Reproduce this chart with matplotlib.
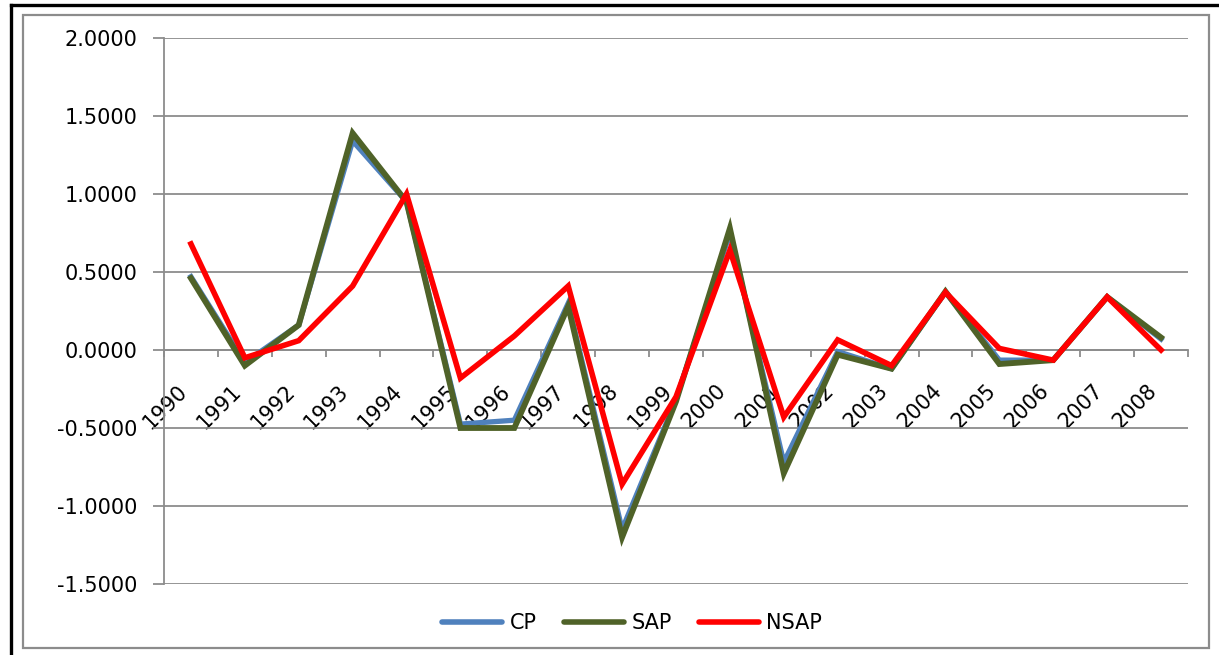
import matplotlib.pyplot as plt
import matplotlib.patches as patches
import matplotlib.lines as mlines
import numpy as np

years = [str(y) for y in range(1990, 2009)]
cp = [0.47, -0.08, 0.16, 1.34, 0.95, -0.475, -0.45, 0.30, -1.15, -0.32, 0.75,
      -0.72, -0.01, -0.12, 0.37, -0.065, -0.065, 0.34, 0.07]
sap = [0.46, -0.10, 0.16, 1.39, 0.95, -0.50, -0.50, 0.28, -1.20, -0.33, 0.78,
       -0.79, -0.03, -0.12, 0.375, -0.09, -0.065, 0.34, 0.08]
nsap = [0.68, -0.05, 0.06, 0.41, 1.00, -0.18, 0.09, 0.41, -0.86, -0.30, 0.64,
        -0.43, 0.065, -0.10, 0.37, 0.01, -0.065, 0.34, 0.0]
y_ticks = [-1.5, -1.0, -0.5, 0.0, 0.5, 1.0, 1.5, 2.0]

W, H = 1219, 655
fig = plt.figure(figsize=(W / 100, H / 100), dpi=100)
ax = fig.add_axes([164 / W, 1 - 584 / H, (1188 - 164) / W, (584 - 38) / H])

grid_col = '#8c8c8c'
fs = 15

x = np.arange(len(years))
ax.plot(x, cp, color='#4F81BD', lw=3.8, solid_joinstyle='miter', label='CP', zorder=3)
ax.plot(x, sap, color='#4F6228', lw=4.2, solid_joinstyle='miter', label='SAP', zorder=4)
ax.plot(x, nsap, color='#FF0000', lw=4.0, solid_joinstyle='miter', label='NSAP', zorder=5)

ax.set_xlim(-0.5, len(years) - 0.5)
ax.set_ylim(-1.5, 2.0)
ax.set_yticks(y_ticks)
ax.set_yticklabels([f'{v:.4f}' for v in y_ticks], fontsize=fs)
ax.yaxis.grid(True, color=grid_col, lw=1.3)
ax.set_axisbelow(True)

# category axis crosses at zero, ticks between categories
ax.spines['bottom'].set_position(('data', 0))
ax.spines['top'].set_visible(False)
ax.spines['right'].set_visible(False)
for s in ['left', 'bottom']:
    ax.spines[s].set_color(grid_col)
    ax.spines[s].set_linewidth(1.3)
ax.set_xticks(np.arange(-0.5, len(years), 1.0))
ax.set_xticklabels([])
ax.set_xticks(x, minor=True)
ax.set_xticklabels(years, minor=True, rotation=45, ha='right', va='top', fontsize=fs)
ax.tick_params(axis='x', which='major', length=5, width=1.3, color=grid_col, direction='out')
ax.tick_params(axis='x', which='minor', length=0, pad=22)
ax.tick_params(axis='y', length=8, width=1.3, color=grid_col, pad=11)

handles = [mlines.Line2D([], [], color=c, lw=4, solid_capstyle='round')
           for c in ['#4F81BD', '#4F6228', '#FF0000']]
fig.legend(handles, ['CP', 'SAP', 'NSAP'], loc='center', ncol=3,
           bbox_to_anchor=(632 / W, 1 - 623 / H), frameon=False, fontsize=fs,
           handlelength=2.9, handletextpad=0.35, columnspacing=1.3)

# frames
fig.add_artist(patches.Rectangle((23 / W, 1 - 648 / H), (1209 - 23) / W, (648 - 15) / H,
                                 transform=fig.transFigure, fill=False,
                                 edgecolor='#8c8c8c', lw=1.6))
fig.add_artist(mlines.Line2D([11 / W, 11 / W], [0, 1 - 5 / H], transform=fig.transFigure,
                             color='black', lw=2.4))
fig.add_artist(mlines.Line2D([11 / W, 1], [1 - 5 / H, 1 - 5 / H], transform=fig.transFigure,
                             color='black', lw=2.4))

fig.savefig('out.png', dpi=100)
